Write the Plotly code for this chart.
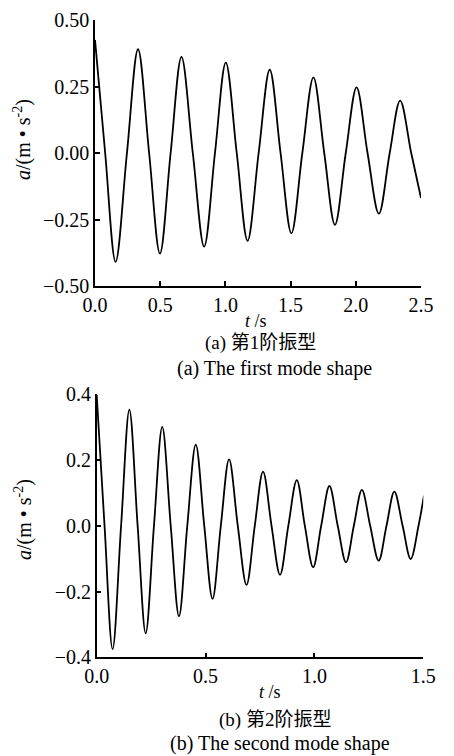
import plotly.graph_objects as go

# ---- data: (a) first mode shape (peaks, troughs and zero crossings)
t1 = [0.00, 0.078, 0.158, 0.245, 0.330, 0.415, 0.498, 0.580, 0.663, 0.750,
      0.837, 0.920, 1.003, 1.087, 1.170, 1.255, 1.340, 1.423, 1.506, 1.590,
      1.675, 1.758, 1.840, 1.923, 2.006, 2.090, 2.177, 2.260, 2.340, 2.425, 2.500]
a1 = [0.425, 0.0, -0.409, 0.0, 0.390, 0.0, -0.378, 0.0, 0.361, 0.0,
      -0.352, 0.0, 0.340, 0.0, -0.330, 0.0, 0.313, 0.0, -0.302, 0.0,
      0.284, 0.0, -0.270, 0.0, 0.247, 0.0, -0.228, 0.0, 0.197, 0.0, -0.169]

# ---- data: (b) second mode shape
t2 = [0.000, 0.036, 0.073, 0.112, 0.150, 0.188, 0.225, 0.263, 0.301, 0.340,
      0.378, 0.416, 0.455, 0.494, 0.532, 0.570, 0.608, 0.648, 0.688, 0.726,
      0.764, 0.803, 0.842, 0.880, 0.919, 0.956, 0.994, 1.031, 1.069, 1.107,
      1.145, 1.181, 1.218, 1.256, 1.295, 1.331, 1.367, 1.405, 1.442, 1.478, 1.503]
a2 = [0.398, 0.0, -0.375, 0.0, 0.353, 0.0, -0.327, 0.0, 0.301, 0.0,
      -0.275, 0.0, 0.247, 0.0, -0.222, 0.0, 0.202, 0.0, -0.180, 0.0,
      0.165, 0.0, -0.149, 0.0, 0.139, 0.0, -0.126, 0.0, 0.121, 0.0,
      -0.111, 0.0, 0.109, 0.0, -0.106, 0.0, 0.104, 0.0, -0.101, 0.0, 0.092]

x1_ticks = [0.0, 0.5, 1.0, 1.5, 2.0, 2.5]
y1_ticks = [-0.50, -0.25, 0.00, 0.25, 0.50]
x2_ticks = [0.0, 0.5, 1.0, 1.5]
y2_ticks = [-0.4, -0.2, 0.0, 0.2, 0.4]

W, H = 454, 756
SERIF = "Liberation Serif, Times New Roman, Noto Sans CJK SC, serif"
line_style = dict(color="black", width=1.8, shape="spline", smoothing=1.0)

fig = go.Figure()
fig.add_trace(go.Scatter(x=t1, y=a1, mode="lines", line=line_style,
                         xaxis="x", yaxis="y", showlegend=False, hoverinfo="skip"))
fig.add_trace(go.Scatter(x=t2, y=a2, mode="lines", line=line_style,
                         xaxis="x2", yaxis="y2", showlegend=False, hoverinfo="skip"))

ax_common = dict(showgrid=False, zeroline=False, showline=True, linecolor="black",
                 linewidth=1.5, ticks="inside", ticklen=5, tickwidth=1.5,
                 tickcolor="black", tickfont=dict(family=SERIF, size=20, color="black"),
                 automargin=False, mirror=False)

fig.update_layout(
    width=W, height=H,
    margin=dict(l=0, r=0, t=0, b=0),
    paper_bgcolor="white", plot_bgcolor="white",
    xaxis=dict(ax_common, domain=[95 / W, 421 / W], range=[0, 2.5],
               tickvals=x1_ticks, tickformat=".1f", anchor="y"),
    yaxis=dict(ax_common, domain=[1 - 286 / H, 1 - 20 / H], range=[-0.5, 0.5],
               tickvals=y1_ticks, tickformat=".2f", anchor="x"),
    xaxis2=dict(ax_common, domain=[96.7 / W, 423.3 / W], range=[0, 1.5],
                tickvals=x2_ticks, tickformat=".1f", anchor="y2"),
    yaxis2=dict(ax_common, domain=[1 - 657.3 / H, 1 - 394.3 / H], range=[-0.4, 0.4],
                tickvals=y2_ticks, tickformat=".1f", anchor="x2"),
)

def ann(text, xpx, ypx, size=20, angle=0):
    fig.add_annotation(text=text, x=xpx / W, y=1 - ypx / H, xref="paper", yref="paper",
                       showarrow=False, textangle=angle, xanchor="center", yanchor="middle",
                       font=dict(family=SERIF, size=size, color="black"))

ytitle = "<i>a</i>/(m • s<sup>-2</sup>)"
ann(ytitle, 23, 140, size=20, angle=-90)
ann(ytitle, 23, 520, size=20, angle=-90)
ann("<i>t</i> /s", 256, 321, size=18)
ann("(a) 第1阶振型", 260, 343, size=19)
ann("(a) The first mode shape", 274.5, 368)
ann("<i>t</i> /s", 270, 692, size=18)
ann("(b) 第2阶振型", 275, 720, size=19)
ann("(b) The second mode shape", 280, 743)

fig.write_html("out.html",
               config={"displayModeBar": False},
               post_script="document.body.style.margin='0px';document.body.style.padding='0px';")
